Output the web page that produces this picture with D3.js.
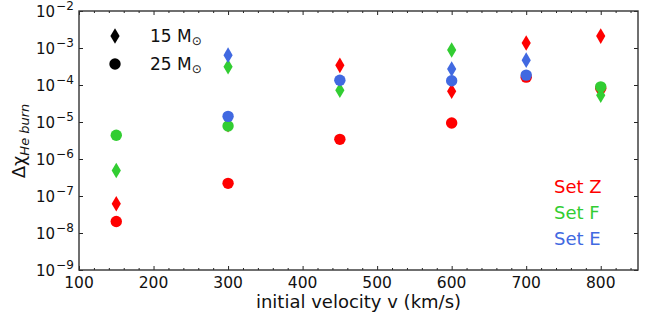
<!DOCTYPE html>
<html>
<head>
<meta charset="utf-8">
<script src="https://cdn.jsdelivr.net/npm/d3@7"></script>
<style>
  body { margin: 0; background: #fff; }
  svg { display: block; font-family: "DejaVu Sans", sans-serif; }
</style>
</head>
<body>
<svg id="canvas" width="660" height="322"></svg>
<script>
// Data (null = no marker)
let velocities = [150, 300, 450, 600, 700, 800];

let setZ15 = [6.2e-8, 8.5e-6, 3.4e-4, 6.8e-5, 1.36e-3, 2.1e-3];
let setZ25 = [2.05e-8, 2.2e-7, 3.4e-6, 9.4e-6, 1.63e-4, 8.2e-5];
let setF15 = [4.9e-7, 3.1e-4, 7.2e-5, 8.8e-4, null, 5.3e-5];
let setF25 = [4.4e-6, 7.8e-6, null, null, null, 8.9e-5];
let setE15 = [null, 6.4e-4, null, 2.7e-4, 4.7e-4, null];
let setE25 = [null, 1.42e-5, 1.35e-4, 1.3e-4, 1.85e-4, null];

let setNames = ["Set Z", "Set F", "Set E"];
let setColors = ["#ff0000", "#32cd32", "#4169e1"];

let xTicks = [100, 200, 300, 400, 500, 600, 700, 800];
let yExponents = [-2, -3, -4, -5, -6, -7, -8, -9];

let plotLeft = 79, plotRight = 638, plotTop = 11, plotBottom = 270;

let canvas = d3.select("#canvas");

let xScale = d3.scaleLinear().domain([100, 850]).range([plotLeft, plotRight]);
let yScale = d3.scaleLog().domain([1e-9, 1e-2]).range([plotBottom, plotTop]);

let diamond = (w, h) => `M0,${-h}L${w},0L0,${h}L${-w},0Z`;

// axes with inward ticks
let minorX = d3.range(100, 851, 20).filter((v) => v % 100 !== 0);
let yTickVals = yExponents.map((e) => Math.pow(10, e));

let xBottom = d3.axisBottom(xScale).tickValues(xTicks).tickSize(-4).tickFormat("");
let xBottomMinor = d3.axisBottom(xScale).tickValues(minorX).tickSize(-2).tickFormat("");
let xTop = d3.axisTop(xScale).tickValues(xTicks).tickSize(-4).tickFormat("");
let xTopMinor = d3.axisTop(xScale).tickValues(minorX).tickSize(-2).tickFormat("");
let yLeft = d3.axisLeft(yScale).tickValues(yTickVals).tickSize(-4).tickFormat("");
let yRight = d3.axisRight(yScale).tickValues(yTickVals).tickSize(-4).tickFormat("");

let addAxis = (axis, tx, ty) => {
  let g = canvas.append("g").attr("transform", `translate(${tx},${ty})`).call(axis);
  g.select(".domain").remove();
  g.selectAll("line").attr("stroke", "#222").attr("stroke-width", 1);
};
addAxis(xBottom, 0, plotBottom);
addAxis(xBottomMinor, 0, plotBottom);
addAxis(xTop, 0, plotTop);
addAxis(xTopMinor, 0, plotTop);
addAxis(yLeft, plotLeft, 0);
addAxis(yRight, plotRight, 0);

canvas.append("rect")
  .attr("x", plotLeft).attr("y", plotTop)
  .attr("width", plotRight - plotLeft).attr("height", plotBottom - plotTop)
  .attr("fill", "none").attr("stroke", "#333").attr("stroke-width", 1.4);

// tick labels
canvas.append("g").selectAll("text").data(xTicks).enter().append("text")
  .attr("x", (d) => xScale(d)).attr("y", plotBottom + 17.5)
  .attr("text-anchor", "middle").attr("font-size", 15.5).attr("fill", "#111")
  .text((d) => d);

let yl = canvas.append("g").selectAll("text").data(yExponents).enter().append("text")
  .attr("x", 36).attr("y", (d) => yScale(Math.pow(10, d)) + 5.5)
  .attr("text-anchor", "start").attr("font-size", 15).attr("fill", "#111");
yl.append("tspan").text("10");
yl.append("tspan").attr("dx", 1).attr("dy", -7).attr("font-size", 12).text((d) => "\u2212" + Math.abs(d));

// axis labels
canvas.append("text")
  .attr("x", (plotLeft + plotRight) / 2).attr("y", 308)
  .attr("text-anchor", "middle").attr("font-size", 18).attr("fill", "#111")
  .text("initial velocity v (km/s)");

let ylab = canvas.append("text")
  .attr("transform", "translate(25,141) rotate(-90)")
  .attr("text-anchor", "middle").attr("font-size", 18).attr("fill", "#111");
ylab.append("tspan").text("\u0394\u03c7");
ylab.append("tspan").attr("dy", 4).attr("font-size", 13).attr("font-style", "italic").text("He burn");

// markers
let groups = [
  [setZ15, setZ25],
  [setF15, setF25],
  [setE15, setE25]
];

let marks = canvas.append("g");
groups.forEach((pair, i) => {
  let d15 = velocities.map((v, j) => ({ v: v, y: pair[0][j] })).filter((d) => d.y !== null);
  let d25 = velocities.map((v, j) => ({ v: v, y: pair[1][j] })).filter((d) => d.y !== null);
  marks.append("g").selectAll("path").data(d15).enter().append("path")
    .attr("d", diamond(4.6, 7.8))
    .attr("transform", (d) => `translate(${xScale(d.v)},${yScale(d.y)})`)
    .attr("fill", setColors[i]);
  marks.append("g").selectAll("circle").data(d25).enter().append("circle")
    .attr("cx", (d) => xScale(d.v)).attr("cy", (d) => yScale(d.y))
    .attr("r", 5.7).attr("fill", setColors[i]);
});

// marker legend
canvas.append("path").attr("d", diamond(4.6, 7.8)).attr("transform", "translate(115,36)").attr("fill", "#000");
canvas.append("circle").attr("cx", 115).attr("cy", 64).attr("r", 5.7).attr("fill", "#000");

let massLabels = ["15", "25"];
massLabels.forEach((m, i) => {
  let t = canvas.append("text")
    .attr("x", 150).attr("y", 42 + i * 28)
    .attr("font-size", 17).attr("fill", "#111");
  t.append("tspan").text(m + " M");
  t.append("tspan").attr("dy", 3).attr("font-size", 12).text("\u2299");
});

// set legend
canvas.append("g").selectAll("text").data(setNames).enter().append("text")
  .attr("x", 554).attr("y", (d, i) => 193 + i * 26)
  .attr("font-size", 18).attr("fill", (d, i) => setColors[i])
  .text((d) => d);
</script>
</body>
</html>
